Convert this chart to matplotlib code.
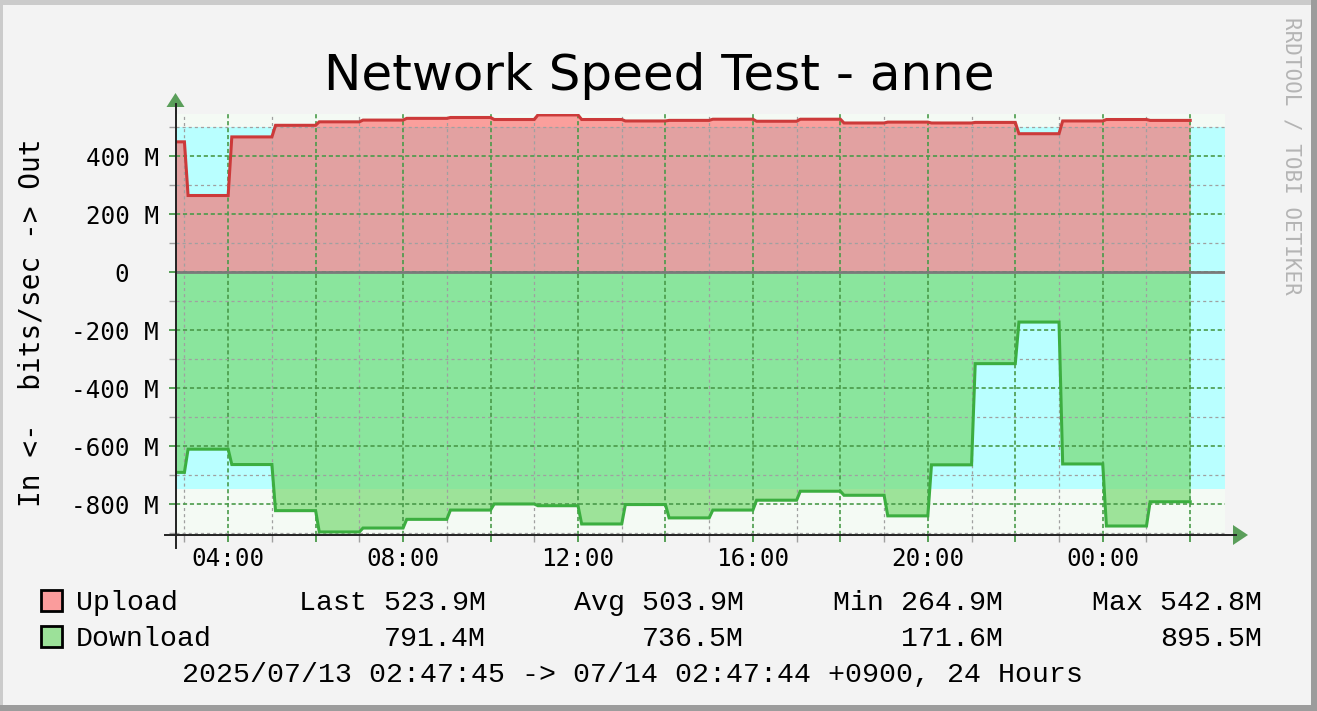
"""
Network speed test chart, redrawn in the rrdtool style.
Upload is drawn above zero, download mirrored below it.
"""

import matplotlib
matplotlib.use("Agg")
import matplotlib.pyplot as plt
import matplotlib.ticker as mticker
from matplotlib.patches import Rectangle, Polygon
from matplotlib.lines import Line2D
import numpy as np

plt.rcParams["lines.scale_dashes"] = False

W, H = 1317, 711

# Time in hours since 2025/07/13 00:00 (first segment starts at 02:47:45)
T_START = 2 + 47 / 60 + 45 / 3600
T_END = 26 + 47 / 60 + 44 / 3600
SEG_START = [T_START, 3, 4, 5, 6, 7, 8, 9, 10, 11, 12, 13, 14,
             15, 16, 17, 18, 19, 20, 21, 22, 23, 24, 25]
SEG_END = 26

# hourly averages, Mbit/s
UPLOAD = [450, 264.9, 467, 507, 519, 525, 531, 534, 527, 542.8, 527, 522,
          524, 528, 521, 528, 515, 518, 515, 517, 478, 522, 527, 523.9]
DOWNLOAD = [690, 610, 663, 822, 895.5, 882, 852, 820, 799, 805, 868, 801,
            847, 820, 786, 755, 769, 840, 664, 315, 171.6, 661, 875, 791.4]

# Last / Avg / Min / Max
UPLOAD_STATS = [523.9, 503.9, 264.9, 542.8]
DOWNLOAD_STATS = [791.4, 736.5, 171.6, 895.5]

# reference band (cyan) in Mbit/s
BAND_LOW, BAND_HIGH = -748, 500
Y_MIN, Y_MAX = -906, 546

BG = "#f3f3f3"
CANVAS = "#f4faf4"
BAND = "#b9ffff"
UP_FILL, UP_ALPHA, UP_LINE = "#ff6262", 0.6, "#cc3a3a"
DN_FILL, DN_ALPHA, DN_LINE = "#76da71", 0.69, "#3cae40"
MAJOR_GRID = "#4a9a4a"
MINOR_GRID = "#a0a0a0"
ARROW = "#5a9e5a"

MONO = "DejaVu Sans Mono"
LEGEND_FONT = "Liberation Mono"


def fp(x, y):
    """Pixel position (from top-left) to figure fraction."""
    return x / W, 1 - y / H


def step_path(starts, end, values, ramp=5 / 60):
    xs, ys = [], []
    for i, v in enumerate(values):
        s = starts[i] + (ramp if i else 0)
        e = starts[i + 1] if i + 1 < len(starts) else end
        xs += [s, e]
        ys += [v, v]
    return np.array(xs), np.array(ys)


def _time_label(h, pos):
    h = int(round(h))
    return f"{h % 24:02d}:00" if h % 4 == 0 else ""


def _mbit_label(v, pos):
    v = int(round(v))
    return "0  " if v == 0 else f"{v} M"


fig = plt.figure(figsize=(W / 100, H / 100), dpi=100, facecolor=BG)

# frame: light top/left, dark bottom/right
fig.add_artist(Rectangle(fp(0, 711), 3 / W, 1, transform=fig.transFigure,
                         fc="#cbcbcb", ec="none"))
fig.add_artist(Rectangle(fp(0, 5), 1, 5 / H, transform=fig.transFigure,
                         fc="#cbcbcb", ec="none"))
fig.add_artist(Rectangle(fp(1311, 711), 6 / W, 1, transform=fig.transFigure,
                         fc="#9c9c9c", ec="none"))
fig.add_artist(Rectangle(fp(0, 711), 1, 6 / H, transform=fig.transFigure,
                         fc="#9c9c9c", ec="none"))

left, right, top, bottom = 175.5, 1225, 114, 535
ax = fig.add_axes([left / W, 1 - bottom / H, (right - left) / W, (bottom - top) / H])
ax.set_facecolor(CANVAS)
ax.set_xlim(T_START, T_END)
ax.set_ylim(Y_MIN, Y_MAX)
for s in ax.spines.values():
    s.set_visible(False)

ax.axhspan(BAND_LOW, BAND_HIGH, color=BAND, lw=0, zorder=0.5)

x_up, y_up = step_path(SEG_START, SEG_END, UPLOAD)
x_dn, y_dn = step_path(SEG_START, SEG_END, DOWNLOAD)
ax.fill_between(x_up, 0, y_up, color=UP_FILL, alpha=UP_ALPHA, lw=0, zorder=1)
ax.fill_between(x_dn, 0, -y_dn, color=DN_FILL, alpha=DN_ALPHA, lw=0, zorder=1)
ax.plot(x_up, y_up, color=UP_LINE, lw=2.2, zorder=2.2, solid_joinstyle="miter")
ax.plot(x_dn, -y_dn, color=DN_LINE, lw=2.2, zorder=2.2, solid_joinstyle="miter")
ax.axhline(0, color="#7a7a7a", lw=2.0, zorder=2.5)

# ticks and grid
ax.xaxis.set_major_locator(mticker.FixedLocator(np.arange(4, 27, 2)))
ax.xaxis.set_minor_locator(mticker.FixedLocator(np.arange(3, 27, 2)))
ax.xaxis.set_major_formatter(mticker.FuncFormatter(_time_label))
ax.yaxis.set_major_locator(mticker.MultipleLocator(200))
ax.yaxis.set_minor_locator(mticker.MultipleLocator(100))
ax.yaxis.set_major_formatter(mticker.FuncFormatter(_mbit_label))

ax.grid(True, which="major", color=MAJOR_GRID, lw=1.2, ls=(0, (3, 2)), zorder=1.5)
ax.grid(True, which="minor", color=MINOR_GRID, lw=0.9, ls=(0, (2.2, 2.2)), zorder=1.5)

ax.tick_params(axis="both", which="both", direction="out", length=5, width=1)
ax.tick_params(axis="both", which="major", color=MAJOR_GRID, width=1.3)
ax.tick_params(axis="both", which="minor", color=MINOR_GRID)
ax.tick_params(axis="y", which="major", pad=7)
ax.tick_params(axis="x", which="major", pad=3.5)
for lbl in ax.get_xticklabels() + ax.get_yticklabels():
    lbl.set_fontfamily(MONO)
    lbl.set_fontsize(17.5)

# axis lines with arrows
fig.add_artist(Line2D(*zip(fp(165, bottom), fp(1236, bottom)),
                      transform=fig.transFigure, color="#222222", lw=1.4))
fig.add_artist(Line2D(*zip(fp(left, 548), fp(left, 104)),
                      transform=fig.transFigure, color="#222222", lw=1.4))
fig.add_artist(Polygon([fp(left - 9, 107), fp(left + 9, 107), fp(left, 93)],
                       closed=True, transform=fig.transFigure, fc=ARROW, ec="none"))
fig.add_artist(Polygon([fp(1233, 525), fp(1233, 545), fp(1248, 535)],
                       closed=True, transform=fig.transFigure, fc=ARROW, ec="none"))

# title, axis label, watermark
fig.text(*fp(659, 76), "Network Speed Test - anne", fontsize=36,
         ha="center", va="center")
fig.text(*fp(32, 323), "In <-  bits/sec -> Out", fontsize=20, family=MONO,
         rotation=90, ha="center", va="center")
fig.text(*fp(1291, 156), "RRDTOOL / TOBI OETIKER", fontsize=15, family=MONO,
         rotation=270, ha="center", va="center", color="#b4b4b4")

# legend
rows = [("Upload", UPLOAD_STATS, UP_FILL, UP_ALPHA, 610, True),
        ("Download", DOWNLOAD_STATS, DN_FILL, DN_ALPHA, 646, False)]
stat_names = ["Last", "Avg", "Min", "Max"]
stat_right = [486, 744, 1003, 1262]
for name, stats, color, alpha, base, with_names in rows:
    fig.add_artist(Rectangle(fp(41, base + 1), 21 / W, 21 / H,
                             transform=fig.transFigure, fc=color, alpha=alpha,
                             ec="none"))
    fig.add_artist(Rectangle(fp(41, base + 1), 21 / W, 21 / H,
                             transform=fig.transFigure, fc="none", ec="black", lw=2))
    fig.text(*fp(76, base), name, family=LEGEND_FONT, fontsize=20.3, va="baseline")
    for sname, val, xr in zip(stat_names, stats, stat_right):
        txt = f"{sname} {val:.1f}M" if with_names else f"{val:.1f}M"
        fig.text(*fp(xr, base), txt, family=LEGEND_FONT, fontsize=20.3,
                 ha="right", va="baseline")

fig.text(*fp(632, 682), "2025/07/13 02:47:45 -> 07/14 02:47:44 +0900, 24 Hours",
         family=LEGEND_FONT, fontsize=20.3, ha="center", va="baseline")

fig.savefig("out.png", dpi=100, facecolor=BG)
plt.close(fig)
